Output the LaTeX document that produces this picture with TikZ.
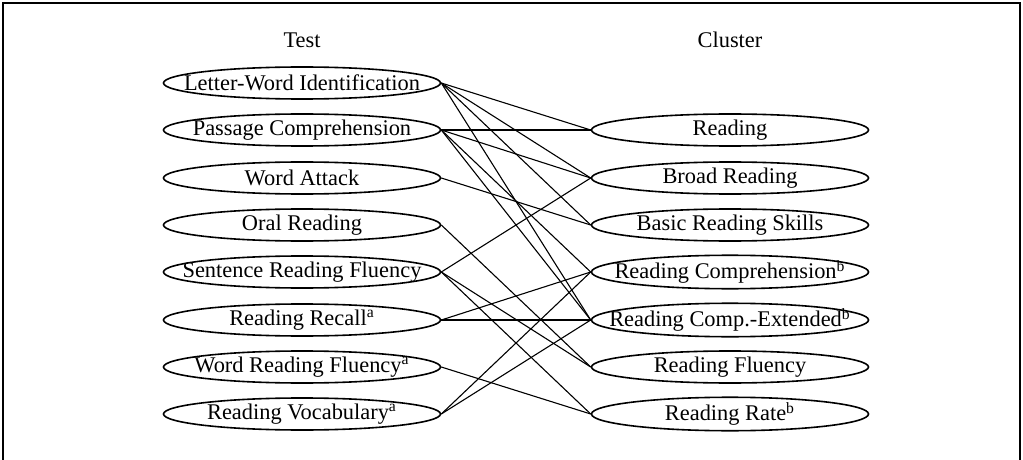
\documentclass[tikz,border=0pt]{standalone}
\usepackage{fontspec}
\setmainfont{Liberation Serif}
\usetikzlibrary{shapes.geometric}
\begin{document}
\begin{tikzpicture}[x=0.5pt,y=-0.5pt,
  ell/.style={draw,ellipse,line width=0.8pt,minimum width=138.5pt,minimum height=16pt,inner xsep=-30pt,inner ysep=0pt,font=\fontsize{11.2}{13}\selectfont},
  hdr/.style={font=\fontsize{11.2}{13}\selectfont},
  link/.style={line width=0.55pt}]
\useasboundingbox (0,0) rectangle (1023,460);
\draw[line width=0.7pt] (3,460) -- (3,3) -- (1020,3) -- (1020,460);
\node[hdr] (test) at (302,40) {Test};
\node[hdr] (cluster) at (730,40) {Cluster};
% tests
\node[ell] (lwi) at (302,83) {Letter-Word Identification};
\node[ell] (pc)  at (302,130) {Passage Comprehension};
\node[ell] (wa)  at (302,178) {Word Attack};
\node[ell] (or)  at (302,225) {Oral Reading};
\node[ell] (srf) at (302,272) {Sentence Reading Fluency};
\node[ell] (rr)  at (302,320) {Reading Recall\textsuperscript{a}};
\node[ell] (wrf) at (302,367) {Word Reading Fluency\textsuperscript{a}};
\node[ell] (rv)  at (302,414) {Reading Vocabulary\textsuperscript{a}};
% clusters
\node[ell] (rd)   at (730,130) {Reading};
\node[ell] (br)   at (730,178) {Broad Reading};
\node[ell] (brs)  at (730,225) {Basic Reading Skills};
\node[ell] (rc)   at (730,272) {Reading Comprehension\textsuperscript{b}};
\node[ell] (rce)  at (730,320) {Reading Comp.-Extended\textsuperscript{b}};
\node[ell] (rf)   at (730,367) {Reading Fluency};
\node[ell] (rate) at (730,414) {Reading Rate\textsuperscript{b}};
% links
\draw[link] (lwi.east) -- (rd.west);
\draw[link] (lwi.east) -- (br.west);
\draw[link] (lwi.east) -- (brs.west);
\draw[link] (lwi.east) -- (rce.west);
\draw[link] (pc.east) -- (rd.west);
\draw[link] (pc.east) -- (br.west);
\draw[link] (pc.east) -- (rc.west);
\draw[link] (pc.east) -- (rce.west);
\draw[link] (wa.east) -- (brs.west);
\draw[link] (or.east) -- (rf.west);
\draw[link] (srf.east) -- (br.west);
\draw[link] (srf.east) -- (rf.west);
\draw[link] (srf.east) -- (rate.west);
\draw[link] (rr.east) -- (rc.west);
\draw[link] (rr.east) -- (rce.west);
\draw[link] (wrf.east) -- (rate.west);
\draw[link] (rv.east) -- (rc.west);
\draw[link] (rv.east) -- (rce.west);
\end{tikzpicture}
\end{document}
